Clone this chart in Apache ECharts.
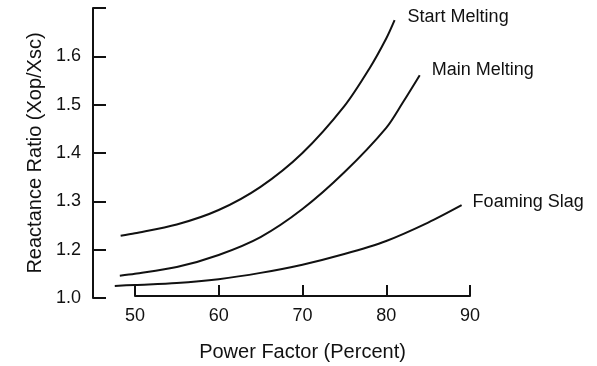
<!DOCTYPE html>
<html>
<head>
<meta charset="utf-8">
<script src="https://cdn.jsdelivr.net/npm/echarts@6/dist/echarts.min.js"></script>
<style>
html,body{margin:0;padding:0;background:#fff;}
#chart{width:597px;height:366px;}
</style>
</head>
<body>
<div id="chart"></div>
<script>
// Power factor (percent) sample points per curve
const startPF = [48.3, 50, 55, 60, 65, 70, 75, 78, 80, 81];
const startMelting = [1.229, 1.234, 1.252, 1.282, 1.330, 1.400, 1.497, 1.575, 1.637, 1.675];

const mainPF = [48.2, 50, 55, 60, 65, 70, 75, 80, 82, 84];
const mainMelting = [1.146, 1.150, 1.164, 1.189, 1.226, 1.284, 1.360, 1.452, 1.505, 1.561];

const foamPF = [47.6, 50, 55, 60, 65, 70, 75, 80, 85, 89];
const foamingSlag = [1.125, 1.127, 1.131, 1.139, 1.152, 1.169, 1.191, 1.218, 1.256, 1.292];

const seriesNames = ['Start Melting', 'Main Melting', 'Foaming Slag'];

// Axis ticks (the reference's y axis is broken: its bottom tick is labelled 1.0)
const yTickValues = [1.1, 1.2, 1.3, 1.4, 1.5, 1.6, 1.7];
const yTickLabels = ['1.0', '1.2', '1.3', '1.4', '1.5', '1.6', ''];
const xTickValues = [50, 60, 70, 80, 90];

const FONT = '"Liberation Sans", Arial, sans-serif';
const INK = '#111111';

function pairs(xs, ys) { return xs.map((x, i) => [x, ys[i]]); }

const chart = echarts.init(document.getElementById('chart'), null, {renderer: 'canvas'});

function lineSeries(name, data, offset) {
  return {
    name: name,
    type: 'line',
    xAxisIndex: 0,
    yAxisIndex: 0,
    data: data,
    smooth: 0.3,
    showSymbol: false,
    symbol: 'none',
    silent: true,
    lineStyle: {color: INK, width: 2},
    endLabel: {
      show: true,
      formatter: '{a}',
      color: INK,
      fontFamily: FONT,
      fontSize: 18,
      offset: offset
    }
  };
}

chart.setOption({
  backgroundColor: '#ffffff',
  animation: false,
  grid: [
    {left: 93, right: 127, top: 8, bottom: 68},
    {left: 135, right: 127, top: 290, bottom: 70}
  ],
  xAxis: [
    {
      type: 'value', gridIndex: 0, min: 45, max: 90, show: false
    },
    {
      type: 'value', gridIndex: 1, min: xTickValues[0], max: xTickValues[xTickValues.length - 1],
      interval: 10,
      name: 'Power Factor (Percent)',
      nameLocation: 'middle',
      nameGap: 46,
      nameTextStyle: {color: INK, fontFamily: FONT, fontSize: 20},
      axisLine: {show: true, lineStyle: {color: INK, width: 2}},
      axisTick: {show: true, inside: true, length: 11, lineStyle: {color: INK, width: 2}},
      axisLabel: {color: INK, fontFamily: FONT, fontSize: 18, margin: 11},
      splitLine: {show: false}
    }
  ],
  yAxis: [
    {
      type: 'value', gridIndex: 0,
      min: yTickValues[0], max: yTickValues[yTickValues.length - 1], interval: 0.1,
      name: 'Reactance Ratio (Xop/Xsc)',
      nameLocation: 'middle',
      nameGap: 44,
      nameRotate: 90,
      nameTextStyle: {color: INK, fontFamily: FONT, fontSize: 20},
      axisLine: {show: true, lineStyle: {color: INK, width: 2}},
      axisTick: {show: true, inside: true, length: 13, lineStyle: {color: INK, width: 2}},
      axisLabel: {
        color: INK, fontFamily: FONT, fontSize: 18, margin: 12,
        showMinLabel: true, showMaxLabel: true,
        formatter: function (v) {
          for (let i = 0; i < yTickValues.length; i++) {
            if (Math.abs(v - yTickValues[i]) < 1e-6) return yTickLabels[i];
          }
          return '';
        }
      },
      splitLine: {show: false}
    },
    {
      type: 'value', gridIndex: 1, min: 0, max: 1, show: false
    }
  ],
  series: [
    lineSeries(seriesNames[0], pairs(startPF, startMelting), [5, -3]),
    lineSeries(seriesNames[1], pairs(mainPF, mainMelting), [4, -5]),
    lineSeries(seriesNames[2], pairs(foamPF, foamingSlag), [3, -3])
  ]
});
</script>
</body>
</html>
